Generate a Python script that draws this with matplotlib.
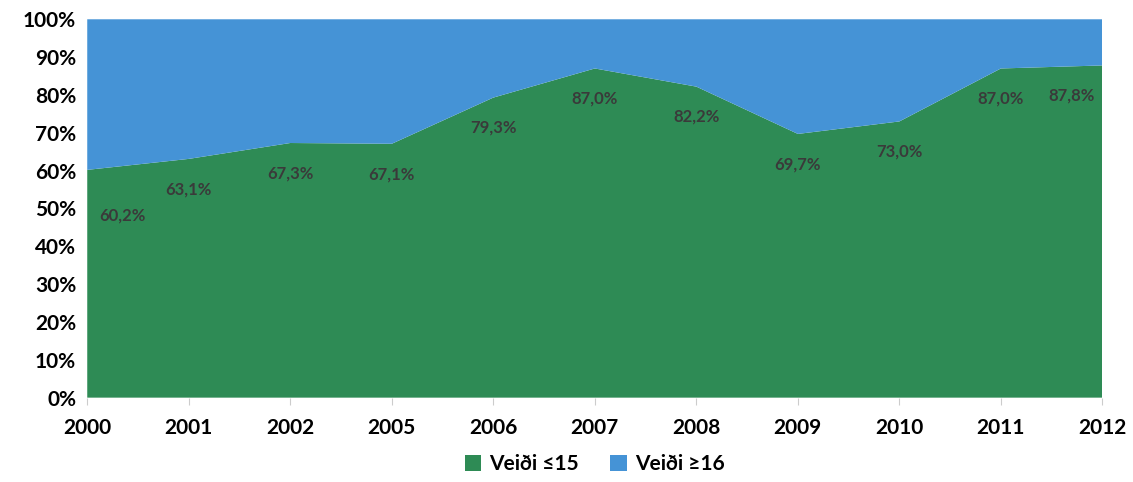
import numpy as np
import matplotlib.pyplot as plt

plt.rcParams['font.family'] = ['Lato', 'DejaVu Sans']

# Data
years = ["2000", "2001", "2002", "2005", "2006", "2007", "2008", "2009", "2010", "2011", "2012"]
veidi_15 = np.array([60.2, 63.1, 67.3, 67.1, 79.3, 87.0, 82.2, 69.7, 73.0, 87.0, 87.8])
veidi_16 = 100 - veidi_15

green = "#2e8b55"
blue = "#4593d6"

fig = plt.figure(figsize=(11.33, 4.82), dpi=100)
ax = fig.add_axes([0.077, 0.175, 0.896, 0.785])

x = np.arange(len(years))
ax.stackplot(x, veidi_15, veidi_16, colors=[green, blue],
             labels=["Veiði ≤15", "Veiði ≥16"])

# data labels
for i, v in enumerate(veidi_15):
    xi = i
    dy = 8
    if i == 0:
        xi = 0.35
        dy = 12
    elif i == len(years) - 1:
        xi = len(years) - 1.3
    ax.text(xi, v - dy, f"{v:.1f}%".replace(".", ","), ha="center", va="center",
            fontsize=12, fontweight="bold", color="#3a3a3a")

ax.set_xlim(0, len(years) - 1)
ax.set_ylim(0, 100)
ax.set_xticks(x)
ax.set_xticklabels(years, fontsize=15, fontweight="bold")
ax.set_yticks(np.arange(0, 101, 10))
ax.set_yticklabels([f"{t}%" for t in range(0, 101, 10)], fontsize=15, fontweight="bold")
ax.tick_params(axis="y", length=0, pad=8)
ax.tick_params(axis="x", length=5, color="#cccccc", pad=10)
for s in ax.spines.values():
    s.set_visible(False)

ax.legend(loc="center", bbox_to_anchor=(0.5, -0.175), ncol=2, frameon=False,
          prop={"size": 15, "weight": "bold"}, handlelength=0.8, handleheight=0.8,
          columnspacing=1.5, handletextpad=0.4)

plt.savefig("out.png", dpi=100)
